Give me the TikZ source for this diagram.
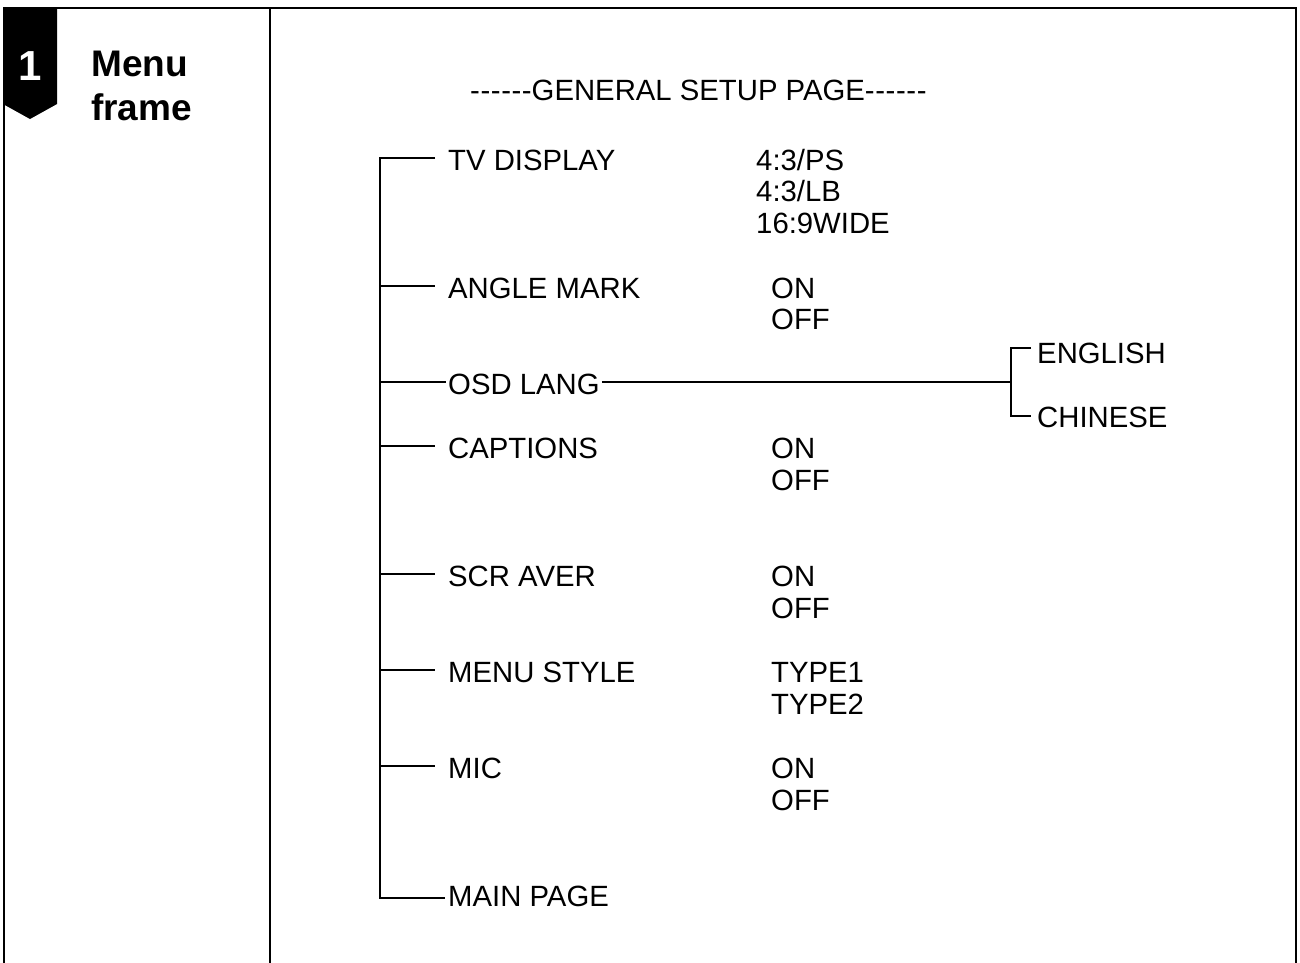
\documentclass[tikz,border=0pt]{standalone}
\usepackage{fontspec}
\setmainfont{Liberation Sans}
\newcommand\hy{\hbox{-}}
\begin{document}
\begin{tikzpicture}[x=1pt,y=-1pt,
  lbl/.style={anchor=west,inner sep=0pt,text height=20.8pt,text depth=0pt,font=\fontsize{29.3}{31}\selectfont},
  frameline/.style={line width=2.6pt,line cap=rect},
  conn/.style={line width=2.8pt}]
\useasboundingbox (0,0) rectangle (1300,962);
% frame
\draw[frameline] (4,962) -- (4,8) -- (1296,8) -- (1296,962);
\draw[frameline] (270,8) -- (270,962);
% badge
\fill[black] (3,7) -- (57,7) -- (57,104) -- (30,119) -- (3,104) -- cycle;
\node[text=white,font=\fontsize{42}{44}\selectfont\bfseries,anchor=base] (num) at (30,80) {1};
\node[font=\fontsize{37}{44}\selectfont\bfseries,anchor=base west,inner sep=0pt] (t1) at (91,76) {Menu};
\node[font=\fontsize{37}{44}\selectfont\bfseries,anchor=base west,inner sep=0pt] (t2) at (91,120) {frame};
% title
\node[lbl] (title) at (470,90) {\hy\kern0.6pt\hy\kern0.6pt\hy\kern0.6pt\hy\kern0.6pt\hy\kern0.6pt\hy GENERAL SETUP PAGE\hy\kern0.6pt\hy\kern0.6pt\hy\kern0.6pt\hy\kern0.6pt\hy\kern0.6pt\hy};
% items
\node[lbl] (tv) at (448,160) {TV DISPLAY};
\node[lbl] (tv1) at (756,160) {4:3/PS};
\node[lbl] (tv2) at (756,191) {4:3/LB};
\node[lbl] (tv3) at (756,223) {16:9WIDE};
\node[lbl] (am) at (448,288) {ANGLE MARK};
\node[lbl] (am1) at (771,288) {ON};
\node[lbl] (am2) at (771,319) {OFF};
\node[lbl] (osd) at (448,384) {OSD LANG};
\node[lbl] (eng) at (1037,353) {ENGLISH};
\node[lbl] (chi) at (1037,417) {CHINESE};
\node[lbl] (cap) at (448,448) {CAPTIONS};
\node[lbl] (cap1) at (771,448) {ON};
\node[lbl] (cap2) at (771,480) {OFF};
\node[lbl] (scr) at (448,576) {SCR AVER};
\node[lbl] (scr1) at (771,576) {ON};
\node[lbl] (scr2) at (771,608) {OFF};
\node[lbl] (ms) at (448,672) {MENU STYLE};
\node[lbl] (ms1) at (771,672) {TYPE1};
\node[lbl] (ms2) at (771,704) {TYPE2};
\node[lbl] (mic) at (448,768) {MIC};
\node[lbl] (mic1) at (771,768) {ON};
\node[lbl] (mic2) at (771,800) {OFF};
\node[lbl] (mp) at (448,896) {MAIN PAGE};
% trunk with first and last branch
\coordinate (ttop) at (380,158);
\coordinate (tbot) at (380,898);
\draw[conn] ([xshift=-13pt]tv.west |- ttop) -- (ttop) -- (tbot) -- ([xshift=-3pt]tbot -| mp.west);
% branches
\draw[conn] ([yshift=2pt]am.west -| ttop) -- ([xshift=-13pt,yshift=2pt]am.west);
\draw[conn] ([yshift=2pt]cap.west -| ttop) -- ([xshift=-13pt,yshift=2pt]cap.west);
\draw[conn] ([yshift=2pt]scr.west -| ttop) -- ([xshift=-13pt,yshift=2pt]scr.west);
\draw[conn] ([yshift=2pt]ms.west -| ttop) -- ([xshift=-13pt,yshift=2pt]ms.west);
\draw[conn] ([yshift=2pt]mic.west -| ttop) -- ([xshift=-13pt,yshift=2pt]mic.west);
\draw[conn] ([yshift=2pt]osd.west -| ttop) -- ([xshift=-2pt,yshift=2pt]osd.west);
\coordinate (fork) at (1011,382);
\draw[conn] ([xshift=2pt]osd.east |- fork) -- (fork);
\draw[conn] ([xshift=-6pt,yshift=5pt]eng.west) -| (fork) |- ([xshift=-6pt,yshift=1pt]chi.west);
\end{tikzpicture}
\end{document}
